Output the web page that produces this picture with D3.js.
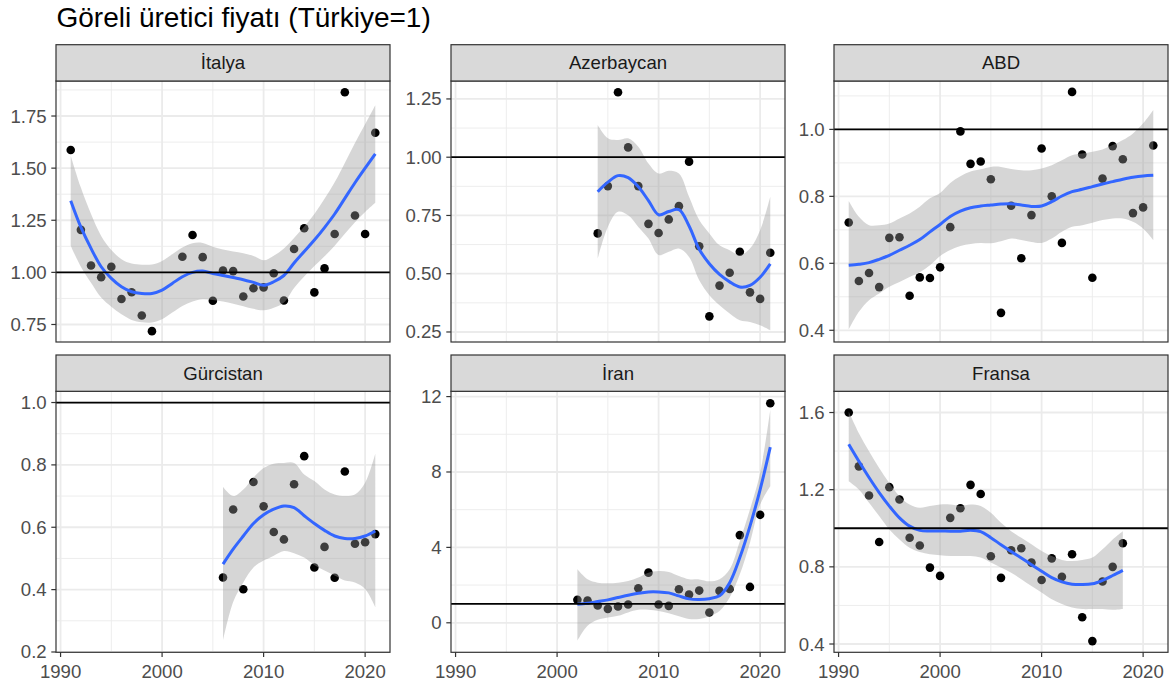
<!DOCTYPE html>
<html>
<head>
<meta charset="utf-8">
<script src="https://cdn.jsdelivr.net/npm/d3@7"></script>
<style>
  html, body { margin: 0; padding: 0; background: #ffffff; }
  svg { display: block; font-family: "Liberation Sans", Arial, Helvetica, sans-serif; }
</style>
</head>
<body>
<svg id="chart" width="1173" height="685"></svg>
<script>
// ---------------- DATA ----------------
const chartTitle = "Göreli üretici fiyatı (Türkiye=1)";
const panelNames = ["İtalya", "Azerbaycan", "ABD", "Gürcistan", "İran", "Fransa"];
const xTicks = [1990, 2000, 2010, 2020];
const xMinorTicks = [1995, 2005, 2015];

// İtalya
const italyYears = [1991,1992,1993,1994,1995,1996,1997,1998,1999,2002,2003,2004,2005,2006,2007,2008,2009,2010,2011,2012,2013,2014,2015,2016,2017,2018,2019,2020,2021];
const italyValues = [1.587,1.204,1.033,0.977,1.027,0.872,0.905,0.793,0.718,1.075,1.179,1.073,0.864,1.009,1.006,0.884,0.924,0.928,0.996,0.865,1.112,1.212,0.904,1.019,1.184,1.864,1.273,1.184,1.670];
const italyFitYears = [1991,1992,1993,1994,1995,1996,1997,1998,1999,2000,2001,2002,2003,2004,2005,2006,2007,2008,2009,2010,2011,2012,2013,2014,2015,2016,2017,2018,2019,2020,2021];
const italyFit   = [1.344,1.217,1.115,1.027,0.971,0.931,0.907,0.899,0.899,0.915,0.947,0.979,1.000,1.006,0.995,0.985,0.975,0.965,0.952,0.938,0.955,0.985,1.045,1.100,1.155,1.215,1.280,1.355,1.430,1.500,1.568];
const italyUpper = [1.560,1.407,1.280,1.175,1.107,1.063,1.042,1.037,1.038,1.055,1.087,1.119,1.140,1.141,1.123,1.110,1.100,1.092,1.079,1.058,1.080,1.115,1.165,1.220,1.280,1.353,1.432,1.525,1.620,1.710,1.802];
const italyLower = [1.128,1.027,0.950,0.879,0.835,0.799,0.772,0.761,0.760,0.775,0.807,0.839,0.860,0.871,0.867,0.860,0.850,0.838,0.825,0.818,0.830,0.855,0.925,0.980,1.030,1.077,1.128,1.185,1.240,1.290,1.334];
const italyTicks = [0.75, 1.00, 1.25, 1.50, 1.75];
const italyTickLabels = ["0.75", "1.00", "1.25", "1.50", "1.75"];
const italyMinor = [0.875, 1.125, 1.375, 1.625, 1.875];

// Azerbaycan
const azeYears = [2004,2005,2006,2007,2008,2009,2010,2011,2012,2013,2014,2015,2016,2017,2018,2019,2020,2021];
const azeValues = [0.673,0.876,1.279,1.042,0.876,0.714,0.675,0.733,0.790,0.981,0.618,0.317,0.449,0.504,0.594,0.420,0.392,0.590];
const azeFit   = [0.852,0.893,0.921,0.912,0.873,0.814,0.753,0.767,0.775,0.705,0.605,0.543,0.497,0.465,0.443,0.450,0.485,0.542];
const azeUpper = [1.138,1.081,1.074,1.081,1.045,0.973,0.930,0.942,0.930,0.830,0.730,0.673,0.622,0.601,0.580,0.608,0.687,0.830];
const azeLower = [0.565,0.701,0.766,0.751,0.701,0.651,0.580,0.594,0.608,0.572,0.472,0.408,0.365,0.329,0.300,0.293,0.279,0.257];
const azeTicks = [0.25, 0.50, 0.75, 1.00, 1.25];
const azeTickLabels = ["0.25", "0.50", "0.75", "1.00", "1.25"];
const azeMinor = [0.375, 0.625, 0.875, 1.125];

// ABD
const usaYears = [1991,1992,1993,1994,1995,1996,1997,1998,1999,2000,2001,2002,2003,2004,2005,2006,2007,2008,2009,2010,2011,2012,2013,2014,2015,2016,2017,2018,2019,2020,2021];
const usaValues = [0.722,0.547,0.571,0.529,0.676,0.678,0.503,0.558,0.556,0.588,0.708,0.994,0.897,0.904,0.851,0.452,0.772,0.615,0.744,0.943,0.800,0.661,1.112,0.925,0.557,0.853,0.950,0.911,0.750,0.767,0.952];
const usaFit   = [0.594,0.597,0.602,0.612,0.624,0.639,0.654,0.671,0.694,0.716,0.740,0.756,0.766,0.771,0.774,0.777,0.778,0.774,0.770,0.771,0.784,0.801,0.814,0.821,0.829,0.837,0.844,0.851,0.857,0.861,0.863];
const usaUpper = [0.786,0.739,0.714,0.714,0.719,0.734,0.749,0.769,0.794,0.810,0.840,0.860,0.874,0.881,0.888,0.888,0.882,0.878,0.878,0.883,0.893,0.908,0.923,0.928,0.933,0.940,0.953,0.968,0.988,1.018,1.058];
const usaLower = [0.402,0.455,0.490,0.510,0.530,0.544,0.559,0.573,0.594,0.622,0.640,0.652,0.658,0.661,0.660,0.666,0.674,0.670,0.664,0.661,0.674,0.694,0.709,0.714,0.721,0.729,0.734,0.734,0.724,0.704,0.669];
const usaTicks = [0.4, 0.6, 0.8, 1.0];
const usaTickLabels = ["0.4", "0.6", "0.8", "1.0"];
const usaMinor = [0.5, 0.7, 0.9, 1.1];

// Gürcistan
const geoYears = [2006,2007,2008,2009,2010,2011,2012,2013,2014,2015,2016,2017,2018,2019,2020,2021];
const geoValues = [0.439,0.657,0.401,0.745,0.667,0.585,0.561,0.738,0.828,0.471,0.537,0.438,0.779,0.547,0.552,0.578];
const geoFit   = [0.482,0.530,0.572,0.612,0.640,0.658,0.668,0.663,0.637,0.612,0.590,0.572,0.564,0.564,0.572,0.588];
const geoUpper = [0.730,0.700,0.721,0.759,0.790,0.804,0.806,0.806,0.769,0.748,0.721,0.705,0.700,0.705,0.743,0.836];
const geoLower = [0.237,0.360,0.423,0.471,0.493,0.509,0.524,0.517,0.503,0.479,0.461,0.445,0.429,0.423,0.402,0.344];
const geoTicks = [0.2, 0.4, 0.6, 0.8, 1.0];
const geoTickLabels = ["0.2", "0.4", "0.6", "0.8", "1.0"];
const geoMinor = [0.3, 0.5, 0.7, 0.9];

// İran
const iranYears = [2002,2003,2004,2005,2006,2007,2008,2009,2010,2011,2012,2013,2014,2015,2016,2017,2018,2019,2020,2021];
const iranValues = [1.216,1.180,0.916,0.740,0.863,0.969,1.833,2.660,0.969,0.899,1.780,1.498,1.709,0.546,1.692,1.797,4.652,1.903,5.727,11.648];
const iranFit   = [0.987,1.040,1.128,1.216,1.339,1.463,1.568,1.639,1.639,1.586,1.427,1.270,1.240,1.280,1.430,2.130,3.460,5.130,7.070,9.320];
const iranUpper = [2.840,2.310,2.130,2.100,2.130,2.220,2.400,2.660,2.750,2.700,2.480,2.310,2.300,2.200,2.310,2.840,4.330,6.010,7.950,11.300];
const iranLower = [-0.950,-0.160,0.160,0.280,0.370,0.550,0.690,0.690,0.630,0.510,0.350,0.200,0.200,0.350,0.630,1.340,2.570,4.250,6.270,7.240];
const iranTicks = [0, 4, 8, 12];
const iranTickLabels = ["0", "4", "8", "12"];
const iranMinor = [2, 6, 10];

// Fransa
const fraYears = [1991,1992,1993,1994,1995,1996,1997,1998,1999,2000,2001,2002,2003,2004,2005,2006,2007,2008,2009,2010,2011,2012,2013,2014,2015,2016,2017,2018];
const fraValues = [1.600,1.321,1.170,0.929,1.213,1.149,0.951,0.911,0.796,0.753,1.054,1.104,1.225,1.178,0.855,0.743,0.886,0.896,0.822,0.732,0.844,0.748,0.865,0.539,0.415,0.724,0.800,0.922];
const fraFit   = [1.435,1.347,1.263,1.185,1.115,1.054,1.011,0.989,0.986,0.986,0.985,0.985,0.990,0.983,0.951,0.915,0.880,0.846,0.811,0.777,0.744,0.722,0.710,0.708,0.712,0.730,0.755,0.782];
const fraUpper = [1.605,1.493,1.399,1.313,1.235,1.166,1.123,1.106,1.115,1.123,1.123,1.115,1.123,1.115,1.080,1.028,0.985,0.951,0.917,0.882,0.856,0.836,0.830,0.836,0.848,0.891,0.942,0.985];
const fraLower = [1.244,1.201,1.132,1.063,0.994,0.942,0.899,0.877,0.865,0.860,0.856,0.856,0.856,0.848,0.822,0.796,0.770,0.736,0.701,0.667,0.632,0.607,0.589,0.581,0.581,0.581,0.577,0.581];
const fraTicks = [0.4, 0.8, 1.2, 1.6];
const fraTickLabels = ["0.4", "0.8", "1.2", "1.6"];
const fraMinor = [0.6, 1.0, 1.4];

// ------------- PANEL TABLE (built from the arrays) -------------
const panels = [
  { name: panelNames[0], years: italyYears, values: italyValues, fitYears: italyFitYears, fit: italyFit, upper: italyUpper, lower: italyLower, ticks: italyTicks, labels: italyTickLabels, minor: italyMinor, domain: [0.666, 1.918] },
  { name: panelNames[1], years: azeYears, values: azeValues, fitYears: azeYears, fit: azeFit, upper: azeUpper, lower: azeLower, ticks: azeTicks, labels: azeTickLabels, minor: azeMinor, domain: [0.207, 1.327] },
  { name: panelNames[2], years: usaYears, values: usaValues, fitYears: usaYears, fit: usaFit, upper: usaUpper, lower: usaLower, ticks: usaTicks, labels: usaTickLabels, minor: usaMinor, domain: [0.365, 1.1445] },
  { name: panelNames[3], years: geoYears, values: geoValues, fitYears: geoYears, fit: geoFit, upper: geoUpper, lower: geoLower, ticks: geoTicks, labels: geoTickLabels, minor: geoMinor, domain: [0.199, 1.036] },
  { name: panelNames[4], years: iranYears, values: iranValues, fitYears: iranYears, fit: iranFit, upper: iranUpper, lower: iranLower, ticks: iranTicks, labels: iranTickLabels, minor: iranMinor, domain: [-1.565, 12.28] },
  { name: panelNames[5], years: fraYears, values: fraValues, fitYears: fraYears, fit: fraFit, upper: fraUpper, lower: fraLower, ticks: fraTicks, labels: fraTickLabels, minor: fraMinor, domain: [0.357, 1.71] }
];

// ------------- LAYOUT -------------
const colLeft = [56, 451, 834];
const panelW = 334;
const stripTop = [44.7, 355];
const stripH = 36.3;
const panelH = 261;
const tickLen = 4.7;
const labelGap = 4.6;
const axisFont = 18.6;
const border = "#333333";

const svg = d3.select("#chart");
svg.append("rect").attr("width", 1173).attr("height", 685).attr("fill", "#ffffff");

svg.append("text")
  .attr("x", 56.5).attr("y", 26.7)
  .attr("font-size", 28).attr("fill", "#000000")
  .text(chartTitle);

panels.forEach((p, i) => {
  const col = i % 3, row = Math.floor(i / 3);
  const left = colLeft[col];
  const sTop = stripTop[row];
  const top = sTop + stripH;
  const bottom = top + panelH;

  const x = d3.scaleLinear().domain([1989.55, 2022.45]).range([left, left + panelW]);
  const y = d3.scaleLinear().domain(p.domain).range([bottom, top]);

  const g = svg.append("g");
  const clipId = "clip" + i;
  svg.append("clipPath").attr("id", clipId)
    .append("rect").attr("x", left).attr("y", top).attr("width", panelW).attr("height", panelH);

  // background
  g.append("rect").attr("x", left).attr("y", top).attr("width", panelW).attr("height", panelH).attr("fill", "#ffffff");

  const grid = g.append("g").attr("clip-path", `url(#${clipId})`);
  // minor grid
  grid.selectAll("line.xminor").data(xMinorTicks).enter().append("line")
    .attr("x1", d => x(d)).attr("x2", d => x(d)).attr("y1", top).attr("y2", bottom)
    .attr("stroke", "#EBEBEB").attr("stroke-width", 0.9);
  grid.selectAll("line.yminor").data(p.minor).enter().append("line")
    .attr("x1", left).attr("x2", left + panelW).attr("y1", d => y(d)).attr("y2", d => y(d))
    .attr("stroke", "#EBEBEB").attr("stroke-width", 0.9);
  // major grid
  grid.selectAll("line.xmajor").data(xTicks).enter().append("line")
    .attr("x1", d => x(d)).attr("x2", d => x(d)).attr("y1", top).attr("y2", bottom)
    .attr("stroke", "#EBEBEB").attr("stroke-width", 1.8);
  grid.selectAll("line.ymajor").data(p.ticks).enter().append("line")
    .attr("x1", left).attr("x2", left + panelW).attr("y1", d => y(d)).attr("y2", d => y(d))
    .attr("stroke", "#EBEBEB").attr("stroke-width", 1.8);

  const content = g.append("g").attr("clip-path", `url(#${clipId})`);
  // points
  content.selectAll("circle").data(p.years.map((yr, k) => [yr, p.values[k]])).enter().append("circle")
    .attr("cx", d => x(d[0])).attr("cy", d => y(d[1])).attr("r", 4.3).attr("fill", "#000000");

  const fitData = p.fitYears.map((yr, k) => ({ yr, fit: p.fit[k], lo: p.lower[k], hi: p.upper[k] }));
  // ribbon
  content.append("path").datum(fitData)
    .attr("d", d3.area().x(d => x(d.yr)).y0(d => y(d.lo)).y1(d => y(d.hi)).curve(d3.curveCatmullRom))
    .attr("fill", "#999999").attr("fill-opacity", 0.4);
  // smooth line
  content.append("path").datum(fitData)
    .attr("d", d3.line().x(d => x(d.yr)).y(d => y(d.fit)).curve(d3.curveCatmullRom))
    .attr("fill", "none").attr("stroke", "#3366FF").attr("stroke-width", 3);
  // reference line y = 1
  content.append("line")
    .attr("x1", left).attr("x2", left + panelW).attr("y1", y(1)).attr("y2", y(1))
    .attr("stroke", "#000000").attr("stroke-width", 1.8);

  // panel border
  g.append("rect").attr("x", left).attr("y", top).attr("width", panelW).attr("height", panelH)
    .attr("fill", "none").attr("stroke", border).attr("stroke-width", 1.2);

  // strip
  g.append("rect").attr("x", left).attr("y", sTop).attr("width", panelW).attr("height", stripH)
    .attr("fill", "#D9D9D9").attr("stroke", border).attr("stroke-width", 1.2);
  g.append("text").attr("x", left + panelW / 2).attr("y", sTop + stripH / 2)
    .attr("text-anchor", "middle").attr("dominant-baseline", "central")
    .attr("font-size", axisFont).attr("fill", "#1A1A1A").text(p.name);

  // y axis
  const yAxis = g.append("g");
  yAxis.selectAll("line").data(p.ticks).enter().append("line")
    .attr("x1", left - tickLen).attr("x2", left).attr("y1", d => y(d)).attr("y2", d => y(d))
    .attr("stroke", border).attr("stroke-width", 1.2);
  yAxis.selectAll("text").data(p.ticks).enter().append("text")
    .attr("x", left - tickLen - labelGap).attr("y", d => y(d))
    .attr("text-anchor", "end").attr("dominant-baseline", "central")
    .attr("font-size", axisFont).attr("fill", "#4D4D4D")
    .text((d, k) => p.labels[k]);

  // x axis (bottom row only)
  if (row === 1) {
    const xAxis = g.append("g");
    xAxis.selectAll("line").data(xTicks).enter().append("line")
      .attr("x1", d => x(d)).attr("x2", d => x(d)).attr("y1", bottom).attr("y2", bottom + tickLen)
      .attr("stroke", border).attr("stroke-width", 1.2);
    xAxis.selectAll("text").data(xTicks).enter().append("text")
      .attr("x", d => x(d)).attr("y", 678)
      .attr("text-anchor", "middle")
      .attr("font-size", axisFont).attr("fill", "#4D4D4D")
      .text(d => String(d));
  }
});
</script>
</body>
</html>
